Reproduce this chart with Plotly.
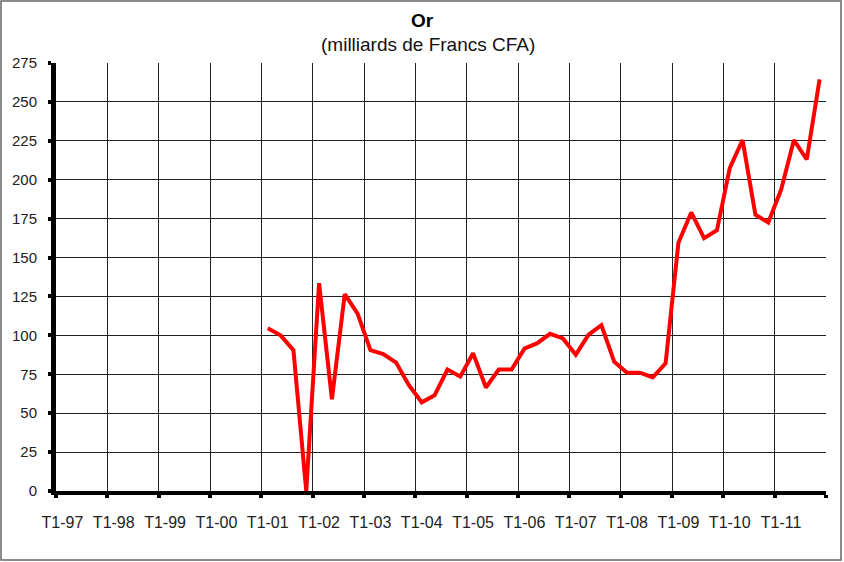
import plotly.graph_objects as go

# trimestres T1-97 .. T4-11
years = ["97", "98", "99", "00", "01", "02", "03", "04",
         "05", "06", "07", "08", "09", "10", "11"]
quarters = [f"T{q}-{y}" for y in years for q in range(1, 5)]

# Or, milliards de FCFA -- pas de donnees avant T1-01
or_values = [None] * 16 + [
    104.5, 100, 90.5, 0,
    133.5, 59, 126.5, 114,
    90.5, 88, 82.5, 68,
    57, 61.5, 78, 73.5,
    88.5, 66.5, 78, 78,
    91.5, 95, 101, 98,
    87.5, 100.5, 106.5, 83,
    76, 76, 73, 82,
    159.5, 179, 162.5, 167.5,
    207.5, 225.5, 177.5, 172.5,
    193.5, 225.5, 213, 264.5,
]

y_ticks = list(range(0, 276, 25))

idx = list(range(len(quarters)))

fig = go.Figure()
fig.add_trace(go.Scatter(
    x=idx, y=or_values, mode="lines",
    line=dict(color="#ff0000", width=4),
    connectgaps=False, showlegend=False,
))

font = "Arial, Liberation Sans, sans-serif"

fig.update_xaxes(
    range=[-0.5, len(quarters) - 0.5], automargin=False,
    tickmode="array", tickvals=idx[::4], ticktext=quarters[::4],
    ticks="", showgrid=False, zeroline=False,
    showline=True, linecolor="black", linewidth=4,
    ticklabelstandoff=14,
    tickfont=dict(family=font, size=16, color="#222"),
    minor=dict(tick0=-0.5, dtick=4, showgrid=True, gridcolor="#222",
               gridwidth=1, ticks="outside", ticklen=3, tickwidth=4,
               tickcolor="black"),
)
fig.update_yaxes(
    range=[0, 275], tickmode="array", tickvals=y_ticks, automargin=False,
    showgrid=True, gridcolor="#222", gridwidth=1, zeroline=False,
    showline=True, linecolor="black", linewidth=5,
    ticks="outside", ticklen=3, tickwidth=4, tickcolor="black",
    ticklabelstandoff=8,
    tickfont=dict(family=font, size=15, color="#222"),
)

# cadre gris autour du graphique (coordonnees relatives a la zone de trace)
pw, ph = 770, 428
fig.add_shape(type="rect", xref="paper", yref="paper",
              x0=-55 / pw, x1=785 / pw, y0=-69 / ph, y1=490 / ph,
              line=dict(color="#666", width=1.5), layer="below")

fig.add_annotation(text="<b>Or</b>", xref="paper", yref="paper",
                   x=(422 - 56) / pw, y=(491 - 20) / ph, showarrow=False,
                   xanchor="center", yanchor="middle",
                   font=dict(family=font, size=19, color="black"))
fig.add_annotation(text="(milliards de Francs CFA)", xref="paper", yref="paper",
                   x=(428 - 56) / pw, y=(491 - 44) / ph, showarrow=False,
                   xanchor="center", yanchor="middle",
                   font=dict(family=font, size=19, color="#111"))

fig.update_layout(
    width=844, height=562,
    margin=dict(l=56, r=18, t=63, b=71),
    plot_bgcolor="white", paper_bgcolor="white",
)

# supprime la marge de 8px du <body>
fig.write_html("out.html", config={"displayModeBar": False},
               post_script="document.body.style.margin='0';")
